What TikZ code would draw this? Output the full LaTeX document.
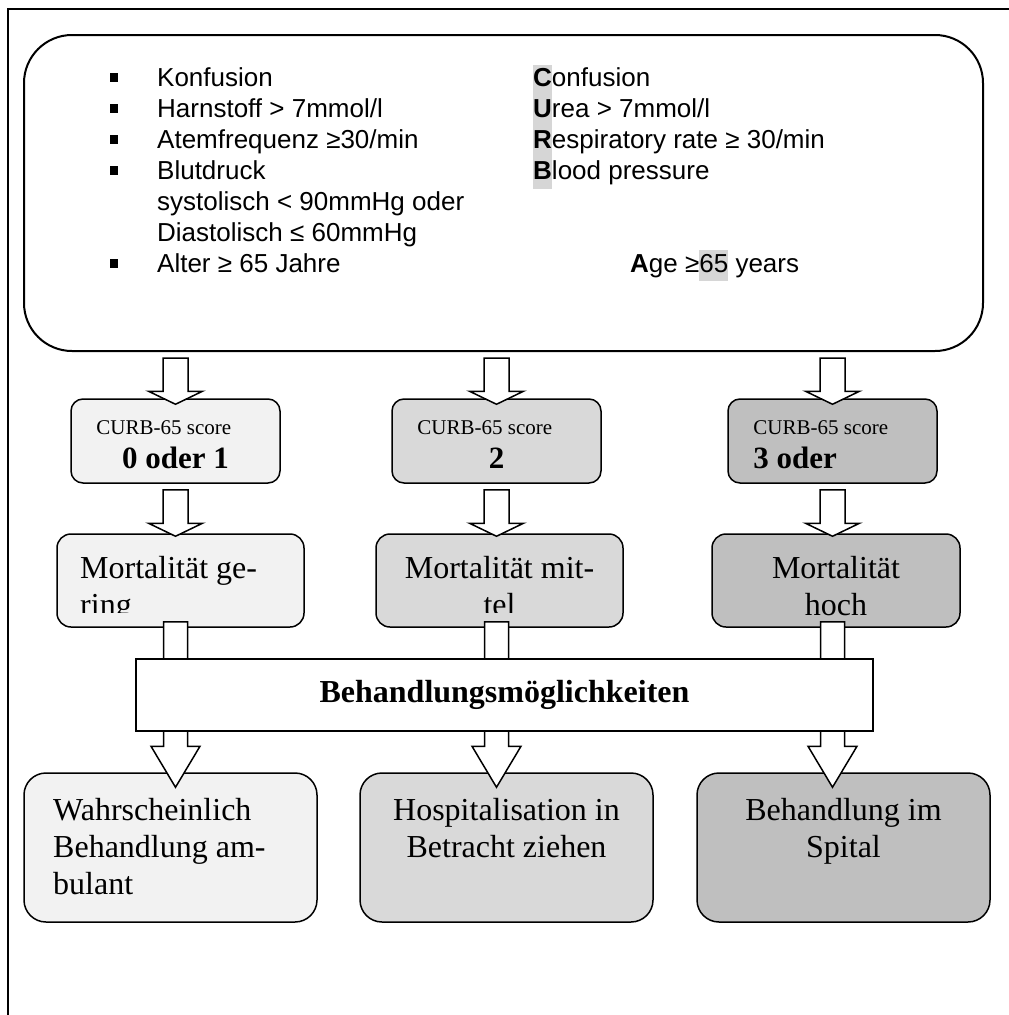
\documentclass[tikz,border=0pt]{standalone}
\usepackage{fontspec}
\setmainfont{Liberation Serif}
\setsansfont{Liberation Sans}
\usetikzlibrary{calc}
\definecolor{PaleGray}{HTML}{F2F2F2}
\definecolor{MidGray}{HTML}{D9D9D9}
\definecolor{DarkGray}{HTML}{BFBFBF}
\definecolor{Marker}{HTML}{D6D6D6}
\newcommand{\listfont}{\sffamily\fontsize{26}{31}\selectfont}
\newcommand{\boxfont}{\fontsize{32}{37}\selectfont}
\newcommand{\scorefont}{\fontsize{21}{25}\selectfont}
\newcommand{\numfont}{\bfseries\fontsize{31}{36}\selectfont}
\newcommand{\hilite}[1]{{\setlength{\fboxsep}{0pt}\colorbox{Marker}{\strut#1}}}
\newcommand{\sqbullet}{\makebox[47pt][l]{\raisebox{4pt}{\rule{8pt}{9pt}}}}
% hollow block arrow: from, tip, shaft half width, head half width, head length
\newcommand{\fatarrow}[5]{%
  \draw[blockarrow] let \p1=#1, \p2=#2 in
    (\x1-#3pt,\y1) -- (\x1+#3pt,\y1) -- (\x1+#3pt,\y2+#5pt) -- (\x1+#4pt,\y2+#5pt)
    -- (\x1,\y2) -- (\x1-#4pt,\y2+#5pt) -- (\x1-#3pt,\y2+#5pt) -- cycle;}

\begin{document}
\begin{tikzpicture}[x=1pt,y=-1pt,
    bigbox/.style={draw,line width=2pt,rounded corners=48pt,minimum width=959pt,minimum height=316pt},
    scorebox/.style={draw,line width=1.5pt,rounded corners=12pt,minimum width=209pt,minimum height=84pt},
    mortbox/.style={draw,line width=1.5pt,rounded corners=14pt,minimum width=247pt,minimum height=93pt},
    carebox/.style={draw,line width=1.5pt,rounded corners=22pt,minimum width=293pt,minimum height=149pt},
    txt/.style={inner sep=0pt},
    blockarrow/.style={draw,fill=white,line width=1.5pt,line join=miter}]
    \useasboundingbox (0,0) rectangle (1009,1015);
    \draw[line width=2pt] (1009,9) -- (8,9) -- (8,1015);

    % CURB criteria
    \node[bigbox] (big) at (503.5,193) {};
    \node[txt,anchor=north west,align=left,font=\listfont] (deutsch) at (110,64.3)
      {\strut\sqbullet Konfusion\\
       \strut\sqbullet Harnstoff > 7mmol/l\\
       \strut\sqbullet Atemfrequenz ≥30/min\\
       \strut\sqbullet Blutdruck\\
       \strut\hspace*{47pt}systolisch < 90mmHg oder\\
       \strut\hspace*{47pt}Diastolisch ≤ 60mmHg\\
       \strut\sqbullet Alter ≥ 65 Jahre};
    \node[txt,anchor=north west,align=left,font=\listfont] (english) at (533,64.3)
      {\hilite{\textbf{C}}onfusion\\
       \hilite{\textbf{U}}rea > 7mmol/l\\
       \hilite{\textbf{R}}espiratory rate ≥ 30/min\\
       \hilite{\textbf{B}}lood pressure};
    \node[txt,anchor=base west,font=\listfont] (age) at (630,272) {\textbf{A}ge ≥\hilite{65} years};

    % scores
    \node[scorebox,fill=PaleGray] (score1) at (175.5,441) {};
    \node[scorebox,fill=MidGray] (score2) at (496.5,441) {};
    \node[scorebox,fill=DarkGray] (score3) at (832.5,441) {};
    \node[txt,anchor=base west,font=\scorefont] (head1) at ($(score1.west)+(26,-7)$) {CURB-65 score};
    \node[txt,anchor=base west,font=\scorefont] (head2) at ($(score2.west)+(26,-7)$) {CURB-65 score};
    \node[txt,anchor=base west,font=\scorefont] (head3) at ($(score3.west)+(26,-7)$) {CURB-65 score};
    \node[txt,anchor=base,font=\numfont] (value1) at ($(score1.center)+(0,27)$) {0 oder 1};
    \node[txt,anchor=base,font=\numfont] (value2) at ($(score2.center)+(0,27)$) {2};
    \node[txt,anchor=base west,font=\numfont] (value3) at ($(score3.west)+(26,27)$) {3 oder};

    % mortality
    \node[mortbox,fill=PaleGray] (mort1) at (180.5,580.5) {};
    \node[mortbox,fill=MidGray] (mort2) at (499.5,580.5) {};
    \node[mortbox,fill=DarkGray,minimum width=248pt] (mort3) at (836,580.5) {};
    \begin{scope}
      \clip (57,534) rectangle (304,612);
      \node[txt,anchor=north west,align=left,font=\boxfont] (risk1) at (80,552)
        {\strut Mortalität ge-\\\strut ring};
    \end{scope}
    \begin{scope}
      \clip (376,534) rectangle (623,612);
      \node[txt,anchor=north,align=center,font=\boxfont] (risk2) at (499.5,552)
        {\strut Mortalität mit-\\\strut tel};
    \end{scope}
    \node[txt,anchor=north,align=center,font=\boxfont] (risk3) at (836,552)
      {\strut Mortalität\\\strut hoch};

    % treatment
    \node[carebox,fill=PaleGray] (care1) at (170.5,847.5) {};
    \node[carebox,fill=MidGray] (care2) at (506.5,847.5) {};
    \node[carebox,fill=DarkGray] (care3) at (843.5,847.5) {};
    \node[txt,anchor=north west,align=left,font=\boxfont] (where1) at (53,794.1)
      {\strut Wahrscheinlich\\\strut Behandlung am-\\\strut bulant};
    \node[txt,anchor=north,align=center,font=\boxfont] (where2) at (506.5,794.1)
      {\strut Hospitalisation in\\\strut Betracht ziehen};
    \node[txt,anchor=north,align=center,font=\boxfont] (where3) at (843.5,794.1)
      {\strut Behandlung im\\\strut Spital};

    % arrows
    \fatarrow{($(score1.north|-big.south)+(0,6)$)}{($(score1.north)+(0,6)$)}{12.5}{27}{13}
    \fatarrow{($(score2.north|-big.south)+(0,6)$)}{($(score2.north)+(0,6)$)}{12.5}{27}{13}
    \fatarrow{($(score3.north|-big.south)+(0,6)$)}{($(score3.north)+(0,6)$)}{12.5}{27}{13}
    \fatarrow{($(score1.south)+(0,6)$)}{($(score1.south|-mort1.north)+(0,3)$)}{12.5}{27}{13}
    \fatarrow{($(score2.south)+(0,6)$)}{($(score2.south|-mort2.north)+(0,3)$)}{12.5}{27}{13}
    \fatarrow{($(score3.south)+(0,6)$)}{($(score3.south|-mort3.north)+(0,3)$)}{12.5}{27}{13}
    \fatarrow{($(score1.south|-mort1.south)+(0,-6)$)}{($(score1.south|-care1.north)+(0,15)$)}{12}{24.5}{41}
    \fatarrow{($(score2.south|-mort2.south)+(0,-6)$)}{($(score2.south|-care2.north)+(0,15)$)}{12}{24.5}{41}
    \fatarrow{($(score3.south|-mort3.south)+(0,-6)$)}{($(score3.south|-care3.north)+(0,15)$)}{12}{24.5}{41}

    \node[draw,fill=white,line width=1.5pt,minimum width=737pt,minimum height=72pt,
          font=\boxfont\bfseries] (options) at (504.5,695) {Behandlungsmöglichkeiten};
\end{tikzpicture}
\end{document}
